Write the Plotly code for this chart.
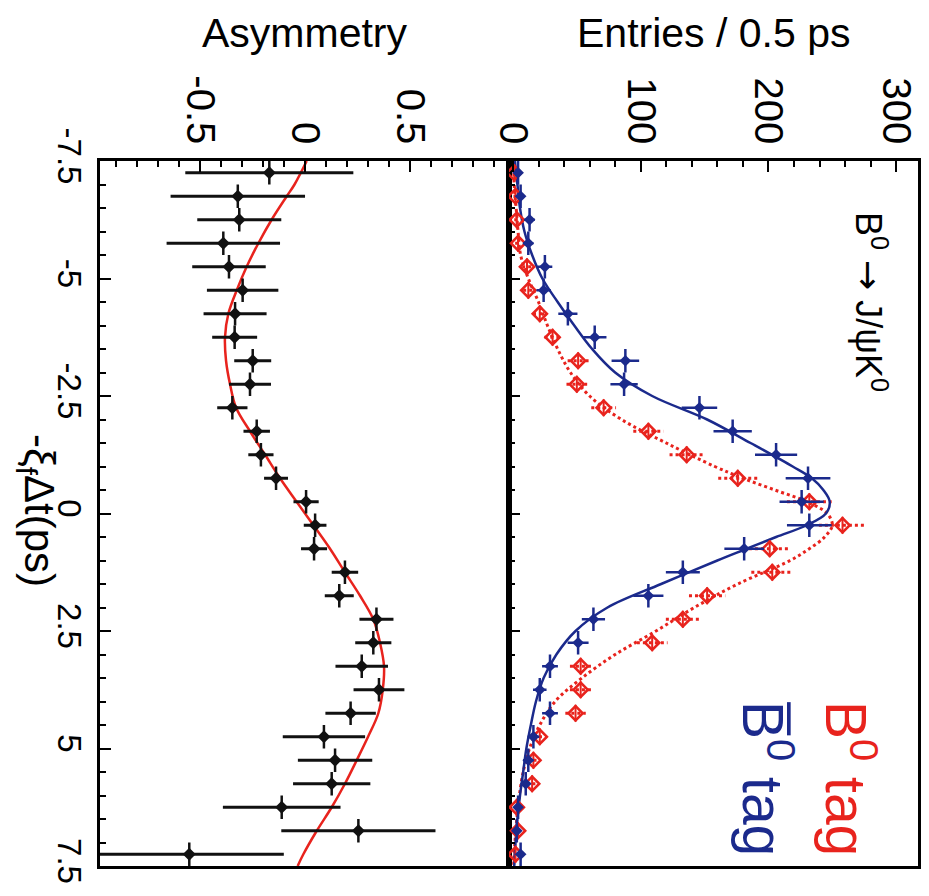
import plotly.graph_objects as go

# ---------------- data ----------------
dt_bins = [-7.25, -6.75, -6.25, -5.75, -5.25, -4.75, -4.25, -3.75, -3.25, -2.75,
           -2.25, -1.75, -1.25, -0.75, -0.25, 0.25, 0.75, 1.25, 1.75, 2.25,
           2.75, 3.25, 3.75, 4.25, 4.75, 5.25, 5.75, 6.25, 6.75, 7.25]

bbar_tag = [4, 6, 13, 12, 25, 24, 43, 64, 88, 87,
            146, 172, 206, 231, 226, 232, 181, 133, 106, 63,
            51, 29, 21, 29, 16, 12, 10, 4, 3, 6]
bbar_err = [2.3, 2.8, 4.1, 4.0, 5.8, 5.6, 7.5, 9.2, 10.8, 10.7,
            13.9, 15.0, 16.5, 17.5, 17.3, 17.5, 15.5, 13.3, 11.8, 9.1,
            8.2, 6.2, 5.3, 6.2, 4.6, 4.0, 3.6, 2.3, 2.0, 2.8]

b0_tag = [1, 2, 3, 4, 11, 12, 21, 31, 51, 50,
          71, 106, 136, 176, 232, 258, 201, 203, 152, 133,
          109, 53, 53, 49, 21, 16, 15, 3, 4, 2]
b0_err = [1.2, 1.6, 2.0, 2.3, 3.8, 4.0, 5.3, 6.4, 8.2, 8.1,
          9.7, 11.8, 13.4, 15.3, 17.5, 18.5, 16.3, 16.4, 14.2, 13.3,
          12.0, 8.4, 8.4, 8.0, 5.3, 4.6, 4.5, 2.0, 2.3, 1.6]

asym = [-0.170, -0.320, -0.313, -0.389, -0.362, -0.297, -0.333, -0.335, -0.249, -0.262,
        -0.346, -0.230, -0.210, -0.138, 0.005, 0.048, 0.043, 0.190, 0.163, 0.340,
        0.325, 0.270, 0.352, 0.217, 0.090, 0.143, 0.127, -0.111, 0.254, -0.551]
asym_err = [0.40, 0.32, 0.20, 0.27, 0.175, 0.17, 0.15, 0.107, 0.088, 0.10,
            0.072, 0.063, 0.06, 0.057, 0.06, 0.054, 0.062, 0.063, 0.069, 0.081,
            0.086, 0.125, 0.121, 0.12, 0.196, 0.177, 0.184, 0.28, 0.367, 0.45]

curve_dt = [-7.5, -7.0, -6.5, -6.0, -5.5, -5.0, -4.5, -4.0, -3.5, -3.0, -2.5, -2.0,
            -1.5, -1.0, -0.75, -0.5, -0.25, 0.0, 0.25, 0.5, 0.75, 1.0, 1.5, 2.0,
            2.5, 3.0, 3.5, 4.0, 4.5, 5.0, 5.5, 6.0, 6.5, 7.0, 7.5]
bbar_fit = [1.5, 3.5, 5.5, 9, 15, 23, 35, 48, 62, 80, 109, 152,
            186, 219, 234, 243, 248, 245, 230, 206, 183, 160, 116, 74,
            49, 34, 24, 18, 14, 10.5, 8, 5.5, 3.5, 2, 1]
b0_fit = [0.5, 1, 2.5, 4, 6, 12, 20, 27, 35, 45, 60, 85,
          120, 158, 180, 205, 230, 246, 250, 244, 232, 217, 176, 142,
          112, 80, 54, 33, 21, 13, 8, 5, 3, 1.5, 0.5]

asym_fit_dt = [-7.5, -7.0, -6.75, -6.25, -5.75, -5.25, -4.75, -4.25, -3.75, -3.25, -2.75,
               -2.25, -1.75, -1.25, -0.75, -0.25, 0.25, 0.75, 1.25, 1.75, 2.25, 2.75,
               3.25, 3.75, 4.25, 4.75, 5.25, 5.75, 6.25, 6.75, 7.25, 7.5]
asym_fit = [0.008, -0.05, -0.087, -0.159, -0.222, -0.278, -0.325, -0.365, -0.381, -0.376, -0.357,
            -0.328, -0.262, -0.190, -0.119, -0.040, 0.040, 0.119, 0.190, 0.262, 0.325, 0.357,
            0.376, 0.370, 0.349, 0.300, 0.246, 0.190, 0.127, 0.056, -0.008, -0.035]

asym_ticks = [-0.5, 0, 0.5]
asym_ticktext = ["-0.5", "0", "0.5"]
entry_ticks = [0, 100, 200, 300]
entry_ticktext = ["0", "100", "200", "300"]
dt_ticks = [-7.5, -5, -2.5, 0, 2.5, 5, 7.5]
dt_ticktext = ["-7.5", "-5", "-2.5", "0", "2.5", "5", "7.5"]

BLUE = "#1b2a8c"
RED = "#e8231d"
BLACK = "#111111"
FONT = "Liberation Sans, Arial, Helvetica, sans-serif"
HALF_BIN = 0.25

# page offset of the plot (browser body margin 8px) is compensated in the size/margins
PW, PH = 818, 705          # plot area in px
PX0, PY0 = 100, 161        # plot area top-left in page px

def px(xp):
    return (xp - PX0) / PW

def py(yp):
    return 1 - (yp - PY0) / PH

fig = go.Figure()

# ---- asymmetry panel ----
fig.add_trace(go.Scatter(
    x=asym_fit, y=asym_fit_dt, mode="lines", line=dict(color=RED, width=2.5, shape="spline"),
    xaxis="x", yaxis="y", showlegend=False, hoverinfo="skip"))
fig.add_trace(go.Scatter(
    x=asym, y=dt_bins, mode="markers",
    marker=dict(symbol="diamond", size=10, color=BLACK),
    error_x=dict(type="data", array=asym_err, color=BLACK, thickness=3, width=0),
    error_y=dict(type="data", array=[HALF_BIN] * len(dt_bins), color=BLACK, thickness=2.5, width=0),
    xaxis="x", yaxis="y", showlegend=False))

# ---- entries panel ----
rx, ry = [], []
for n, e, t in zip(b0_tag, b0_err, dt_bins):
    rx += [n - e, n + e, None]
    ry += [t, t, None]
fig.add_trace(go.Scatter(x=rx, y=ry, mode="lines", line=dict(color=RED, width=3, dash="dot"),
                         xaxis="x2", yaxis="y2", showlegend=False, hoverinfo="skip"))
fig.add_trace(go.Scatter(
    x=b0_fit, y=curve_dt, mode="lines", line=dict(color=RED, width=3, dash="dot", shape="spline"),
    xaxis="x2", yaxis="y2", showlegend=False, hoverinfo="skip"))
fig.add_trace(go.Scatter(
    x=bbar_fit, y=curve_dt, mode="lines", line=dict(color=BLUE, width=2.5, shape="spline"),
    xaxis="x2", yaxis="y2", showlegend=False, hoverinfo="skip"))
fig.add_trace(go.Scatter(
    x=b0_tag, y=dt_bins, mode="markers",
    marker=dict(symbol="diamond-open", size=11, color=RED, line=dict(width=2.5, color=RED)),
    error_y=dict(type="data", array=[0.18] * len(dt_bins), color=RED, thickness=2, width=0),
    xaxis="x2", yaxis="y2", showlegend=False))
fig.add_trace(go.Scatter(
    x=bbar_tag, y=dt_bins, mode="markers",
    marker=dict(symbol="diamond", size=9, color=BLUE),
    error_x=dict(type="data", array=bbar_err, color=BLUE, thickness=2.5, width=0),
    error_y=dict(type="data", array=[HALF_BIN] * len(dt_bins), color=BLUE, thickness=2.5, width=0),
    xaxis="x2", yaxis="y2", showlegend=False))

axis_common = dict(showline=True, linecolor="black", linewidth=2.5, mirror=True,
                   ticks="inside", tickcolor="black", tickwidth=2, ticklen=11,
                   showgrid=False, zeroline=False, automargin=False)
xtickfont = dict(family=FONT, size=40, color="black")
ytickfont = dict(family=FONT, size=33, color="black")

fig.update_layout(
    width=921, height=888,
    margin=dict(l=92, r=11, t=153, b=30),
    paper_bgcolor="white", plot_bgcolor="white",
    xaxis=dict(domain=[0, 0.5], range=[-0.976, 0.971], side="top", anchor="y",
               tickvals=asym_ticks, ticktext=asym_ticktext, tickangle=90, tickfont=xtickfont,
               minor=dict(dtick=0.1, ticks="inside", ticklen=6, tickwidth=2, tickcolor="black"),
               **axis_common),
    xaxis2=dict(domain=[0.5, 1], range=[-3.1, 317.1], side="top", anchor="y2",
                tickvals=entry_ticks, ticktext=entry_ticktext, tickangle=90, tickfont=xtickfont,
                minor=dict(dtick=20, ticks="inside", ticklen=6, tickwidth=2, tickcolor="black"),
                **axis_common),
    yaxis=dict(domain=[0, 1], range=[7.5, -7.5], anchor="x",
               tickvals=dt_ticks, ticktext=dt_ticktext, tickangle=90, tickfont=ytickfont,
               minor=dict(dtick=0.5, ticks="inside", ticklen=6, tickwidth=2, tickcolor="black"),
               **axis_common),
    yaxis2=dict(domain=[0, 1], range=[7.5, -7.5], anchor="x2", matches="y",
                tickvals=dt_ticks, showticklabels=False,
                minor=dict(dtick=0.5, ticks="inside", ticklen=6, tickwidth=2, tickcolor="black"),
                **axis_common),
)

ann_font = dict(family=FONT, color="black")
fig.add_annotation(text="Asymmetry", x=0.25, y=py(33), xref="paper", yref="paper",
                   showarrow=False, xanchor="center", yanchor="middle", font=dict(size=41, **ann_font))
fig.add_annotation(text="Entries / 0.5 ps", x=0.75, y=py(33), xref="paper", yref="paper",
                   showarrow=False, xanchor="center", yanchor="middle", font=dict(size=41, **ann_font))
fig.add_annotation(text="-ξ<sub>f</sub>Δt(ps)", x=px(36), y=py(510), xref="paper", yref="paper",
                   showarrow=False, textangle=90, xanchor="center", yanchor="middle",
                   font=dict(size=42, **ann_font))
fig.add_annotation(text="B<sup>0</sup> <span style='font-family:DejaVu Sans'>→</span> J/ψK<sup>0</sup>",
                   x=px(871), y=py(302),
                   xref="paper", yref="paper", showarrow=False, textangle=90,
                   xanchor="center", yanchor="middle", font=dict(size=36, **ann_font))
fig.add_annotation(text="B<sup>0</sup> tag", x=px(850), y=py(778),
                   xref="paper", yref="paper", showarrow=False, textangle=90,
                   xanchor="center", yanchor="middle", font=dict(size=57, family=FONT, color=RED))
fig.add_annotation(text="B\u0305<sup>0</sup> tag", x=px(767), y=py(778),
                   xref="paper", yref="paper", showarrow=False, textangle=90,
                   xanchor="center", yanchor="middle", font=dict(size=57, family=FONT, color=BLUE))

fig.write_html("out.html")
